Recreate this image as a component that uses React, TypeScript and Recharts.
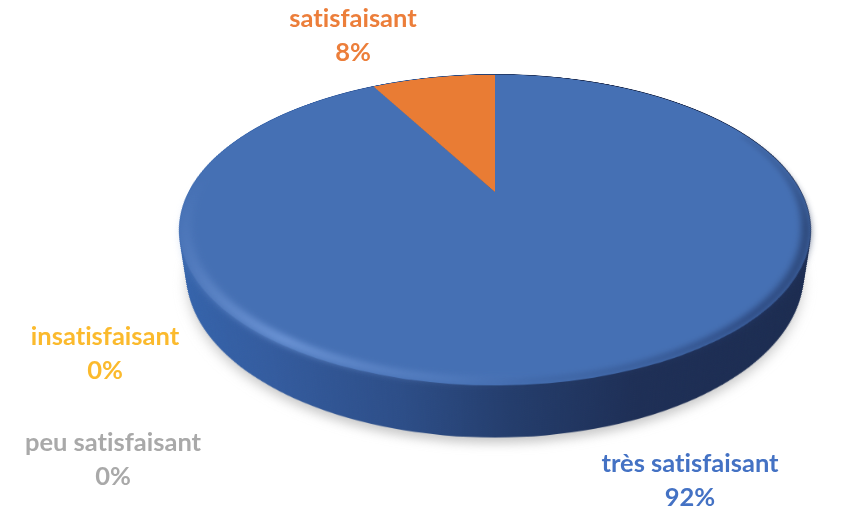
import { PieChart, Pie, Cell } from 'recharts';

const categories = ['très satisfaisant', 'satisfaisant', 'insatisfaisant', 'peu satisfaisant'];
const shares = [92, 8, 0, 0];
const percentLabels = ['92%', '8%', '0%', '0%'];
const sliceColors = ['#4570b4', '#e97c34', '#ffc000', '#a5a5a5'];
const labelColors = ['#4472c4', '#ec7e3a', '#fbba2d', '#a9a9a9'];

// label anchors, same order as categories
const labelCenters = [
  { x: 690, y: 472 },
  { x: 353, y: 27 },
  { x: 105, y: 345 },
  { x: 113, y: 451 },
];

const W = 848;
const H = 513;
const DISC = 640;
const CENTER = DISC / 2;
const RADIUS = 306;
const TIP_X = 495;
const TIP_Y = 192;
const DEPTH = 51;

const pieData = categories.map((name, i) => ({ name, value: shares[i] }));
const sideSteps = Array.from({ length: Math.ceil(DEPTH / 2) + 1 }, (_, i) => DEPTH - i * 2);

// tilt the flat disc so the pie gets the real perspective of the original
const tilt = (drop: number) =>
  `perspective(1098px) rotateX(61.5deg) translateZ(${-drop}px)`;

const discStyle = (drop: number, extra: object = {}) => ({
  position: 'absolute' as const,
  left: TIP_X - CENTER,
  top: TIP_Y - CENTER,
  width: DISC,
  height: DISC,
  transformOrigin: '50% 50%',
  transform: tilt(drop),
  ...extra,
});

function SideLayer({ drop }: { drop: number }) {
  return (
    <div style={discStyle(drop)}>
      <PieChart width={DISC} height={DISC} margin={{ top: 0, right: 0, bottom: 0, left: 0 }}>
        <defs>
          <linearGradient id="sideFill" x1="0" y1="0" x2="1" y2="0">
            <stop offset="0" stopColor="#3565ae" />
            <stop offset="0.2" stopColor="#345c9f" />
            <stop offset="0.38" stopColor="#2d4e88" />
            <stop offset="0.52" stopColor="#243d6c" />
            <stop offset="0.68" stopColor="#1e2f56" />
            <stop offset="1" stopColor="#1b2b4f" />
          </linearGradient>
        </defs>
        <Pie
          data={[{ name: 'side', value: 100 }]}
          dataKey="value"
          cx={CENTER}
          cy={CENTER}
          outerRadius={RADIUS}
          startAngle={90}
          endAngle={-270}
          fill="url(#sideFill)"
          stroke="none"
          isAnimationActive={false}
        />
      </PieChart>
    </div>
  );
}

export default function App() {
  const renderLabel = ({ index }: { index: number }) => {
    const spot = labelCenters[index];
    return (
      <text
        key={categories[index]}
        textAnchor="middle"
        fontFamily="Lato, sans-serif"
        fontWeight={700}
        fontSize={25.5}
        fill={labelColors[index]}
        style={{ fontVariantLigatures: 'none' }}
      >
        <tspan x={spot.x} y={spot.y}>{categories[index]}</tspan>
        <tspan x={spot.x} y={spot.y + 34}>{percentLabels[index]}</tspan>
      </text>
    );
  };

  return (
    <div style={{ position: 'absolute', left: 0, top: 0, width: W, height: H, overflow: 'hidden', background: '#fff' }}>
      {/* soft ground shadow */}
      <div style={discStyle(DEPTH + 6, { filter: 'blur(6px)', opacity: 0.4 })}>
        <PieChart width={DISC} height={DISC} margin={{ top: 0, right: 0, bottom: 0, left: 0 }}>
          <Pie
            data={[{ name: 'shadow', value: 100 }]}
            dataKey="value"
            cx={CENTER}
            cy={CENTER}
            outerRadius={RADIUS}
            fill="#777"
            stroke="none"
            isAnimationActive={false}
          />
        </PieChart>
      </div>

      {sideSteps.map(drop => (
        <SideLayer key={drop} drop={drop} />
      ))}

      {/* top face */}
      <div style={discStyle(0)}>
        <PieChart width={DISC} height={DISC} margin={{ top: 0, right: 0, bottom: 0, left: 0 }}>
          <Pie
            data={pieData}
            dataKey="value"
            cx={CENTER}
            cy={CENTER}
            outerRadius={RADIUS}
            startAngle={90}
            endAngle={-270}
            stroke="none"
            isAnimationActive={false}
          >
            {pieData.map((entry, idx) => (
              <Cell key={`cell-${idx}`} fill={sliceColors[idx]} />
            ))}
          </Pie>
        </PieChart>
      </div>

      {/* bevel on the rim: light on the front left, dark on the right */}
      <div style={discStyle(0, { filter: 'blur(3px)' })}>
        <PieChart width={DISC} height={DISC} margin={{ top: 0, right: 0, bottom: 0, left: 0 }}>
          <defs>
            <linearGradient id="rimLight" x1="0" y1="0" x2="1" y2="1">
              <stop offset="0" stopColor="#6a90d0" stopOpacity="0" />
              <stop offset="0.3" stopColor="#6a90d0" stopOpacity="0.35" />
              <stop offset="0.62" stopColor="#6f97d8" stopOpacity="0.85" />
              <stop offset="1" stopColor="#6a90d0" stopOpacity="0" />
            </linearGradient>
            <linearGradient id="rimDark" x1="0" y1="1" x2="1" y2="0">
              <stop offset="0" stopColor="#27406f" stopOpacity="0" />
              <stop offset="0.45" stopColor="#22386a" stopOpacity="0.7" />
              <stop offset="0.75" stopColor="#1f3158" stopOpacity="0.7" />
              <stop offset="1" stopColor="#1f3158" stopOpacity="0" />
            </linearGradient>
          </defs>
          <Pie
            data={[{ name: 'rimLight', value: 100 }]}
            dataKey="value"
            cx={CENTER}
            cy={CENTER}
            innerRadius={RADIUS - 11}
            outerRadius={RADIUS}
            startAngle={175}
            endAngle={275}
            fill="url(#rimLight)"
            stroke="none"
            isAnimationActive={false}
          />
          <Pie
            data={[{ name: 'rimDark', value: 100 }]}
            dataKey="value"
            cx={CENTER}
            cy={CENTER}
            innerRadius={RADIUS - 8}
            outerRadius={RADIUS}
            startAngle={265}
            endAngle={385}
            fill="url(#rimDark)"
            stroke="none"
            isAnimationActive={false}
          />
        </PieChart>
      </div>

      {/* labels live in a flat, untilted layer */}
      <div style={{ position: 'absolute', left: 0, top: 0 }}>
        <PieChart width={W} height={H} margin={{ top: 0, right: 0, bottom: 0, left: 0 }}>
          <Pie
            data={pieData}
            dataKey="value"
            cx={TIP_X}
            cy={TIP_Y}
            outerRadius={RADIUS}
            startAngle={90}
            endAngle={-270}
            fill="none"
            stroke="none"
            label={renderLabel}
            labelLine={false}
            isAnimationActive={false}
          />
        </PieChart>
      </div>
    </div>
  );
}
